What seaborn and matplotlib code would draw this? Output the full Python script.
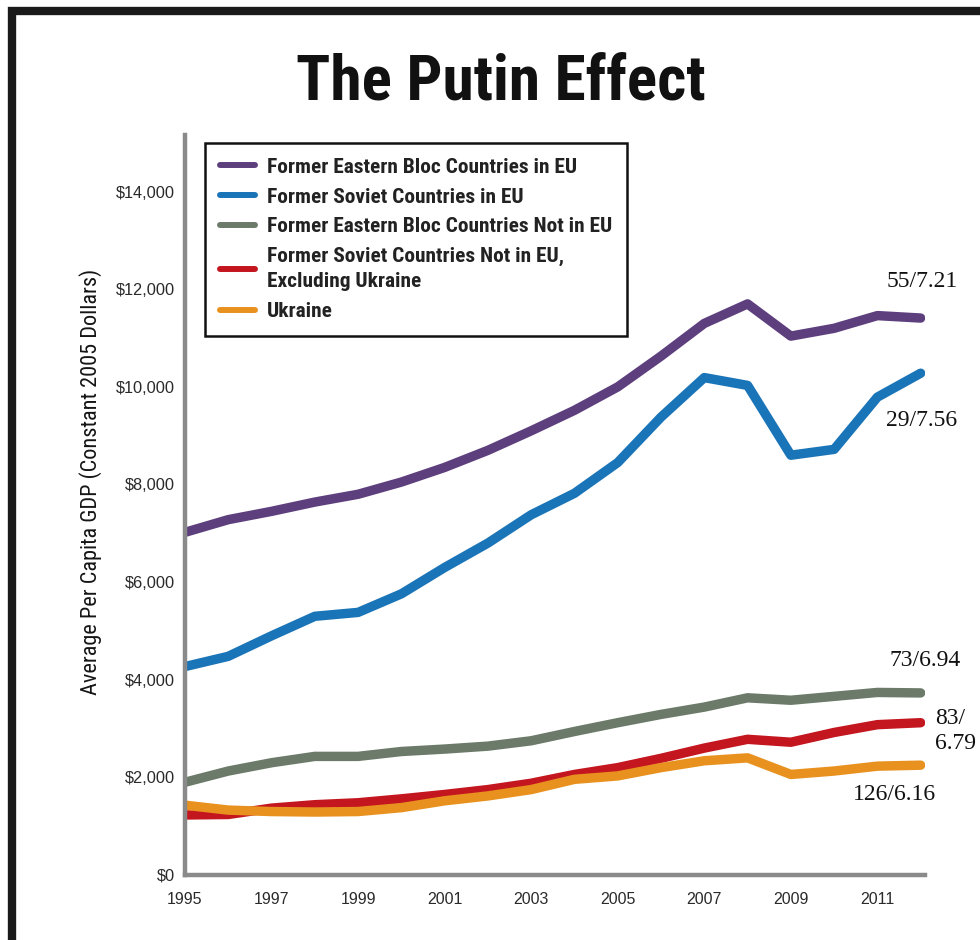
import matplotlib
matplotlib.use("Agg")
import matplotlib.pyplot as plt
import seaborn as sns
import pandas as pd
from matplotlib.patches import Rectangle
from matplotlib.lines import Line2D
from matplotlib.ticker import FuncFormatter

years = list(range(1995, 2013))
eastern_bloc_eu = [7020, 7280, 7450, 7640, 7800, 8050, 8350, 8700, 9100, 9520, 10000, 10630, 11300, 11700, 11040, 11200, 11460, 11410]
soviet_eu = [4270, 4480, 4900, 5300, 5380, 5760, 6300, 6800, 7380, 7820, 8450, 9380, 10190, 10030, 8600, 8720, 9790, 10280]
eastern_bloc_non_eu = [1900, 2130, 2300, 2430, 2430, 2530, 2580, 2640, 2750, 2940, 3120, 3290, 3440, 3630, 3580, 3660, 3740, 3730]
soviet_non_eu = [1230, 1240, 1370, 1440, 1480, 1560, 1650, 1750, 1880, 2060, 2200, 2390, 2600, 2780, 2720, 2920, 3080, 3120]
ukraine = [1430, 1330, 1300, 1290, 1300, 1380, 1520, 1620, 1750, 1960, 2030, 2200, 2340, 2400, 2060, 2130, 2230, 2250]

series_names = [
    "Former Eastern Bloc Countries in EU",
    "Former Soviet Countries in EU",
    "Former Eastern Bloc Countries Not in EU",
    "Former Soviet Countries Not in EU,\nExcluding Ukraine",
    "Ukraine",
]
series_values = [eastern_bloc_eu, soviet_eu, eastern_bloc_non_eu, soviet_non_eu, ukraine]
colors = ["#5e3f7e", "#1a74b8", "#6b7a69", "#c4161f", "#e8911f"]
end_labels = ["55/7.21", "29/7.56", "73/6.94", "83/\n6.79", "126/6.16"]
x_ticks = list(range(1995, 2012, 2))
y_ticks = list(range(0, 14001, 2000))

rows = []
for name, vals in zip(series_names, series_values):
    for y, v in zip(years, vals):
        rows.append({"Year": y, "GDP": v, "Series": name})
df = pd.DataFrame(rows)

sns.set_style("white")
sans = ["Roboto Condensed", "Liberation Sans Narrow", "Liberation Sans", "DejaVu Sans"]
plt.rcParams["font.family"] = ["Liberation Sans", "DejaVu Sans"]

fig = plt.figure(figsize=(9.8, 9.4), dpi=100)
ax = fig.add_axes([185/980, 1-875/940, (925-185)/980, (875-135)/940])

sns.lineplot(data=df, x="Year", y="GDP", hue="Series", hue_order=series_names,
             palette=dict(zip(series_names, colors)), linewidth=6.8, ax=ax,
             legend=False, solid_capstyle="round", solid_joinstyle="round")

ax.set_xlim(1995, 2012.1)
ax.set_ylim(0, 15160)
ax.set_xticks(x_ticks)
ax.set_yticks(y_ticks)
ax.yaxis.set_major_formatter(FuncFormatter(lambda v, p: f"${int(v):,}"))
ax.tick_params(axis="both", length=0, colors="#2a2a2a")
ax.tick_params(axis="x", pad=12, labelsize=11.5)
ax.tick_params(axis="y", pad=7, labelsize=11.8)
ax.set_xlabel("")
ax.set_ylabel("")
fig.text(91/980, 1-482/940, "Average Per Capita GDP (Constant 2005 Dollars)", rotation=90,
         ha="center", va="center", family=sans, fontsize=16, color="#151515")
for s in ["top", "right"]:
    ax.spines[s].set_visible(False)
for s in ["left", "bottom"]:
    ax.spines[s].set_color("#8a8a8a")
    ax.spines[s].set_linewidth(3.2)

# legend
handles = [Line2D([0], [0], color=c, lw=4.3) for c in colors]
leg = ax.legend(handles, series_names, loc="upper left", bbox_to_anchor=(20/740, 732/740),
                borderaxespad=0, frameon=True, fancybox=False, edgecolor="#111111",
                framealpha=1, handlelength=1.64, handletextpad=0.56, borderpad=0.7,
                labelspacing=0.5, prop={"family": sans, "weight": "bold", "size": 15.4})
leg.get_frame().set_linewidth(1.8)
for t in leg.get_texts():
    t.set_color("#222222")
    t.set_linespacing(1.42)

# end labels
label_pos = [(2011.22, 12160), (2011.2, 9313), (2011.27, 4402), (2012.33, 2955), (2010.43, 1640)]
for (x, y), txt in zip(label_pos, end_labels):
    ax.text(x, y, txt, ha="left", va="center", fontsize=17,
            family=["Liberation Serif", "DejaVu Serif"],
            color="#111111", clip_on=False, linespacing=1.25)

fig.text(501/980, 1-100/940, "The Putin Effect", ha="center", va="baseline", fontsize=45.5,
         weight="bold", family=sans, color="#111111")

# outer frame
fig.patches.append(Rectangle((12/980, -0.1), 1.2, 1 - 11/940 + 0.1, transform=fig.transFigure,
                             fill=False, edgecolor="#1a1a1a", linewidth=6))

fig.savefig("out.png", dpi=100)
